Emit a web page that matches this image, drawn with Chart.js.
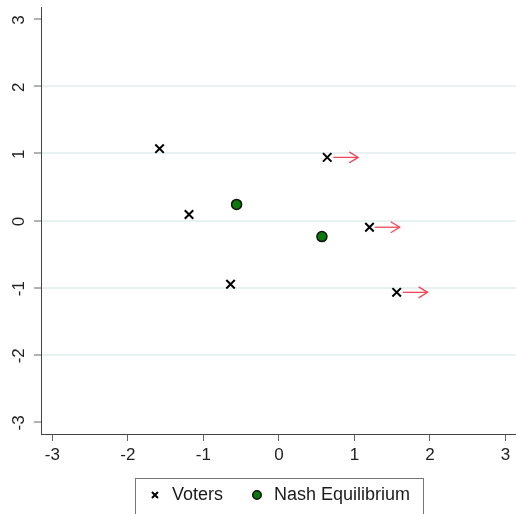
<!DOCTYPE html>
<html>
<head>
<meta charset="utf-8">
<script src="https://cdn.jsdelivr.net/npm/chart.js@4"></script>
<style>
  html, body { margin: 0; padding: 0; background: #fff; }
  #wrap { width: 516px; height: 514px; }
</style>
</head>
<body>
<div id="wrap"><canvas id="c" width="516" height="514"></canvas></div>
<script>
const voterX = [-1.58, -1.19, -0.64, 0.64, 1.20, 1.56];
const voterY = [1.07, 0.09, -0.95, 0.94, -0.10, -1.07];
const nashX = [-0.56, 0.57];
const nashY = [0.24, -0.24];
const arrowFromX = [0.72, 1.27, 1.64];
const arrowToX = [1.05, 1.60, 1.97];
const arrowY = [0.94, -0.10, -1.07];
const xTicks = [-3, -2, -1, 0, 1, 2, 3];
const yTicks = [-3, -2, -1, 0, 1, 2, 3];
const axisMin = -3.15, axisMaxX = 3.14, axisMinY = -3.18, axisMaxY = 3.18;

const FONT = "'Liberation Sans', Arial, sans-serif";
const ARROW_COLOR = '#ee4a58';

const datasets = [
  {
    label: 'Voters',
    data: voterX.map((x, i) => ({x, y: voterY[i]})),
    pointStyle: 'crossRot',
    pointRadius: 6,
    pointBorderWidth: 2,
    borderWidth: 1.6,
    borderColor: '#000',
    backgroundColor: '#000',
    order: 1
  },
  {
    label: 'Nash Equilibrium',
    data: nashX.map((x, i) => ({x, y: nashY[i]})),
    pointStyle: 'circle',
    pointRadius: 5,
    pointBorderWidth: 1.5,
    borderWidth: 1.5,
    borderColor: '#111',
    backgroundColor: '#0a780a',
    order: 1
  }
];
arrowFromX.forEach((fx, i) => {
  datasets.push({
    label: 'arrow' + i,
    isArrow: true,
    data: [{x: fx, y: arrowY[i]}, {x: arrowToX[i], y: arrowY[i]}],
    showLine: true,
    pointRadius: 0,
    borderColor: ARROW_COLOR,
    borderWidth: 1.3,
    order: 2
  });
});

const decor = {
  id: 'decor',
  afterDatasetsDraw(chart) {
    const ctx = chart.ctx;
    const xs = chart.scales.x, ys = chart.scales.y;
    ctx.save();
    ctx.strokeStyle = ARROW_COLOR;
    ctx.lineWidth = 1.3;
    arrowToX.forEach((tx, i) => {
      const px = xs.getPixelForValue(tx), py = ys.getPixelForValue(arrowY[i]);
      ctx.beginPath();
      ctx.moveTo(px - 9, py - 5.5);
      ctx.lineTo(px, py);
      ctx.lineTo(px - 9, py + 5.5);
      ctx.stroke();
    });
    ctx.restore();
  },
  afterDraw(chart) {
    const ctx = chart.ctx;
    const ys = chart.scales.y;
    ctx.save();
    ctx.fillStyle = '#222';
    ctx.font = '17px ' + FONT;
    ctx.textAlign = 'center';
    ctx.textBaseline = 'middle';
    yTicks.forEach(v => {
      const py = ys.getPixelForValue(v);
      ctx.save();
      ctx.translate(19, py + 1);
      ctx.rotate(-Math.PI / 2);
      ctx.fillText(String(v), 0, 0);
      ctx.restore();
    });
    ctx.restore();
    const lg = chart.legend;
    if (lg && lg.legendHitBoxes && lg.legendHitBoxes.length) {
      const hb = lg.legendHitBoxes;
      const l = hb[0].left - 12;
      const r = hb[hb.length - 1].left + hb[hb.length - 1].width + 13;
      const t = hb[0].top - 8;
      ctx.save();
      ctx.strokeStyle = '#777';
      ctx.lineWidth = 1;
      ctx.strokeRect(Math.round(l) + 0.5, Math.round(t) + 0.5, Math.round(r - l), 60);
      ctx.restore();
    }
  }
};

new Chart(document.getElementById('c'), {
  type: 'scatter',
  data: { datasets },
  options: {
    responsive: false,
    animation: false,
    devicePixelRatio: 1,
    layout: { autoPadding: false, padding: { top: 7, right: 0, left: 0, bottom: 0 } },
    plugins: {
      tooltip: { enabled: false },
      legend: {
        position: 'bottom',
        fullSize: false,
        labels: {
          usePointStyle: true,
          boxWidth: 16,
          boxHeight: 6,
          padding: 26,
          color: '#1a1a1a',
          font: { family: FONT, size: 18 },
          filter: (item, data) => !data.datasets[item.datasetIndex].isArrow
        }
      }
    },
    scales: {
      x: {
        type: 'linear',
        min: axisMin,
        max: axisMaxX,
        afterBuildTicks: s => { s.ticks = xTicks.map(v => ({value: v})); },
        afterFit: s => { s.height = 26; s.paddingLeft = 0; s.paddingRight = 0; },
        border: { display: true, color: '#444', width: 1 },
        grid: { drawOnChartArea: false, drawTicks: true, tickLength: 7, tickColor: '#666', tickWidth: 1 },
        ticks: { color: '#222', font: { family: FONT, size: 17 }, padding: 4, maxRotation: 0, autoSkip: false }
      },
      y: {
        type: 'linear',
        min: axisMinY,
        max: axisMaxY,
        afterBuildTicks: s => { s.ticks = yTicks.map(v => ({value: v})); },
        afterFit: s => { s.width = 41; },
        border: { display: true, color: '#444', width: 1 },
        grid: {
          drawOnChartArea: true,
          drawTicks: true,
          tickLength: 7,
          lineWidth: 2,
          color: c => (c.tick && Math.abs(c.tick.value) === 3) ? 'rgba(0,0,0,0)' : '#e9f1f3',
          tickColor: '#666',
          tickWidth: 1
        },
        ticks: { display: false }
      }
    }
  },
  plugins: [decor]
});
</script>
</body>
</html>
